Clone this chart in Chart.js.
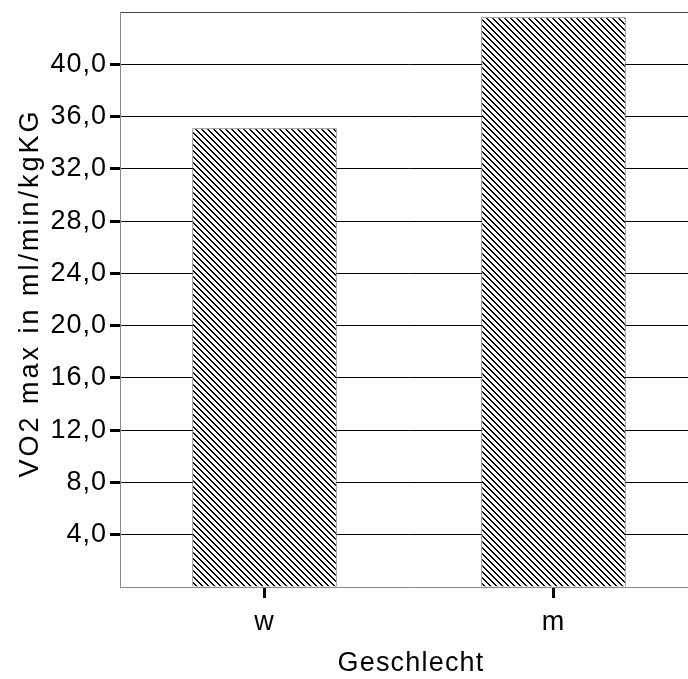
<!DOCTYPE html>
<html>
<head>
<meta charset="utf-8">
<script src="https://cdn.jsdelivr.net/npm/chart.js@4/dist/chart.umd.min.js"></script>
<style>
html,body{margin:0;padding:0;background:#fff;overflow:hidden;}
#wrap{width:698px;height:679px;}
</style>
</head>
<body>
<div id="wrap"><canvas id="c" width="698" height="679"></canvas></div>
<script>
const categories = ['w', 'm'];
const vo2Values = [35.1, 43.6];
const yTickValues = [4, 8, 12, 16, 20, 24, 28, 32, 36, 40];
const yTitle = 'VO2 max in ml/min/kgKG';
const xTitle = 'Geschlecht';

function makePattern() {
  const p = document.createElement('canvas');
  const n = 6;
  p.width = n; p.height = n;
  const g = p.getContext('2d');
  g.fillStyle = '#fff';
  g.fillRect(0, 0, n, n);
  g.fillStyle = '#000';
  for (let i = 0; i < n; i++) {
    g.fillRect(i, i, 1, 1);
    g.fillRect((i + 1) % n, i, 1, 1);
  }
  return document.getElementById('c').getContext('2d').createPattern(p, 'repeat');
}

const FONT = { family: "'Liberation Sans', Arial, sans-serif", size: 27 };
const pattern = makePattern();

const textPlugin = {
  id: 'textPlugin',
  beforeDraw(chart) {
    chart.ctx.letterSpacing = '1px';
  },
  afterDraw(chart) {
    const ctx = chart.ctx;
    ctx.save();
    ctx.font = "27px 'Liberation Sans', Arial, sans-serif";
    ctx.fillStyle = '#000';
    ctx.textAlign = 'center';
    ctx.textBaseline = 'middle';
    ctx.letterSpacing = '1.2px';
    ctx.fillText(xTitle, 411, 664);
    ctx.translate(31, 293);
    ctx.rotate(-Math.PI / 2);
    ctx.letterSpacing = '3px';
    ctx.fillText(yTitle, 0, 0);
    ctx.restore();
  }
};

new Chart(document.getElementById('c'), {
  type: 'bar',
  data: {
    labels: categories,
    datasets: [{
      data: vo2Values,
      backgroundColor: pattern,
      borderColor: '#666',
      borderWidth: 1,
      barPercentage: 0.5,
      categoryPercentage: 1.0
    }]
  },
  options: {
    responsive: false,
    animation: false,
    devicePixelRatio: 1,
    layout: { padding: { top: 12, left: 0, right: 0, bottom: 0 } },
    plugins: { legend: { display: false }, tooltip: { enabled: false } },
    scales: {
      x: {
        type: 'category',
        offset: true,
        grid: {
          offset: false,
          drawOnChartArea: false,
          tickLength: 11,
          tickWidth: 3,
          tickColor: '#000'
        },
        border: { color: '#888', width: 1 },
        ticks: { color: '#000', font: FONT, padding: 8, maxRotation: 0 },
        title: { display: false },
        afterFit: (s) => { s.height = 92; s.paddingLeft = 0; s.paddingRight = 0; }
      },
      y: {
        min: 0,
        max: 44,
        afterBuildTicks: (s) => {
          s.ticks = [0].concat(yTickValues, [44]).map(v => ({ value: v }));
        },
        ticks: {
          color: '#000',
          font: FONT,
          padding: 3,
          callback: (v) => yTickValues.includes(v) ? v.toFixed(1).replace('.', ',') : ''
        },
        grid: {
          color: (ctx) => ctx.tick && ctx.tick.value === 44 ? '#444' : (ctx.tick && ctx.tick.value === 0 ? 'rgba(0,0,0,0)' : '#000'),
          lineWidth: 1,
          tickLength: 10,
          tickWidth: 3,
          tickColor: (ctx) => ctx.tick && yTickValues.includes(ctx.tick.value) ? '#000' : 'rgba(0,0,0,0)'
        },
        border: { color: '#888', width: 1 },
        title: { display: false },
        afterFit: (s) => { s.width = 120; s.paddingTop = 0; s.paddingBottom = 0; }
      }
    }
  },
  plugins: [textPlugin]
});
</script>
</body>
</html>
